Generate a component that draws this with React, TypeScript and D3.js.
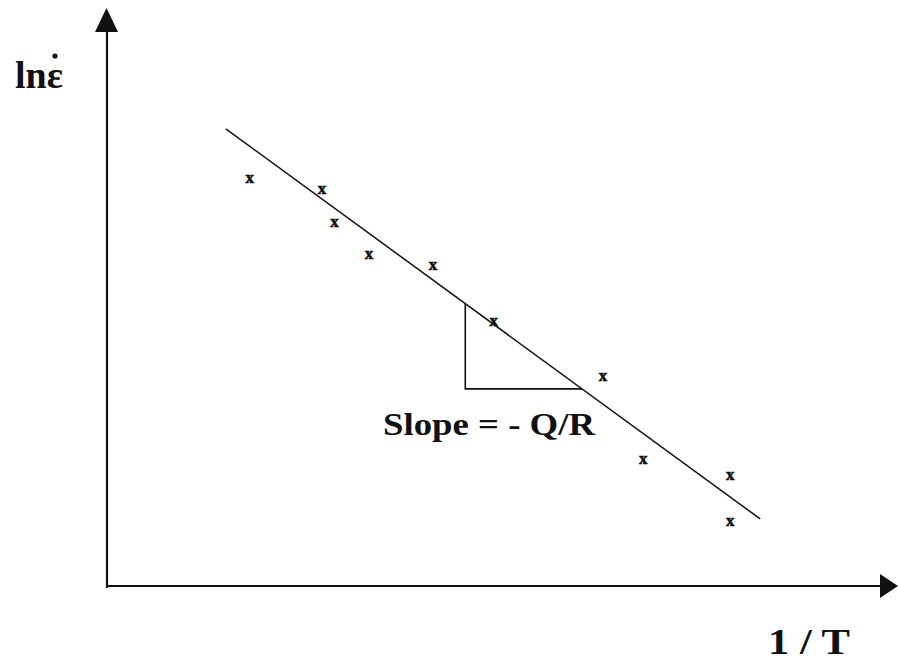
import React from "react";
import * as d3 from "d3";

// Measured points (1/T in arbitrary units, ln strain rate in arbitrary units)
const invT = [1.84, 2.78, 2.94, 3.39, 4.22, 5.01, 6.43, 6.95, 8.08, 8.08];
const lnRate = [7.04, 6.85, 6.28, 5.73, 5.54, 4.57, 3.62, 2.18, 1.9, 1.11];

// Fitted line: lnRate = intercept + slope * invT
const fitSlope = -0.9726;
const fitIntercept = 9.398;
const fitRange = [1.53, 8.47];

// Slope triangle: vertical leg at x0, horizontal leg at level y1
const triX0 = 4.64;
const triY1 = 3.41;

const W = 898;
const H = 661;

export default function App() {
  const x = d3.scaleLinear().domain([0, 10]).range([108, 878]);
  const y = d3.scaleLinear().domain([0, 10]).range([586, 8]);

  const fit = (v: number) => fitIntercept + fitSlope * v;
  const line = d3
    .line<number>()
    .x((d) => x(d))
    .y((d) => y(fit(d)));

  const triX1 = (fitIntercept - triY1) / -fitSlope;
  const triPath = d3.path();
  triPath.moveTo(x(triX0), y(fit(triX0)));
  triPath.lineTo(x(triX0), y(triY1));
  triPath.lineTo(x(triX1), y(triY1));

  const ox = x(0) - 1;
  const oy = y(0);
  const serif = "'Liberation Serif', 'Times New Roman', serif";

  return (
    <svg
      width={W}
      height={H}
      style={{ position: "absolute", left: 0, top: 0, background: "#fff" }}
    >
      {/* axes with arrowheads */}
      <line x1={ox} y1={oy + 2} x2={ox} y2={31} stroke="#111" strokeWidth={2.2} />
      <path d={`M${ox - 12},32 L${ox + 11},32 L${ox - 0.5},8 Z`} fill="#111" />
      <line x1={ox - 1} y1={oy} x2={881} y2={oy} stroke="#111" strokeWidth={2.2} />
      <path d={`M880,${oy - 12} L880,${oy + 12} L898,${oy} Z`} fill="#111" />

      {/* fitted line */}
      <path d={line(fitRange) || ""} fill="none" stroke="#111" strokeWidth={1.5} />

      {/* slope triangle */}
      <path d={triPath.toString()} fill="none" stroke="#111" strokeWidth={1.6} />

      {/* data markers */}
      {invT.map((v, i) => (
        <text
          key={i}
          x={x(v)}
          y={y(lnRate[i]) + 4}
          textAnchor="middle"
          fontFamily={serif}
          fontWeight="bold"
          fontSize={17}
          stroke="#111"
          strokeWidth={0.6}
          fill="#111"
        >
          x
        </text>
      ))}

      {/* labels */}
      <text x={63} y={88} textAnchor="end" fontFamily={serif} fontWeight="bold" fontSize={38} fill="#111">
        lnε
      </text>
      <circle cx={55} cy={56} r={2.6} fill="#111" />
      <text
        x={383}
        y={435}
        fontFamily={serif}
        fontWeight="bold"
        fontSize={31}
        textLength={212}
        lengthAdjust="spacingAndGlyphs"
        fill="#111"
      >
        Slope = - Q/R
      </text>
      <text
        x={768}
        y={654}
        fontFamily={serif}
        fontWeight="bold"
        fontSize={36}
        textLength={82}
        lengthAdjust="spacingAndGlyphs"
        fill="#111"
      >
        1 / T
      </text>
    </svg>
  );
}
